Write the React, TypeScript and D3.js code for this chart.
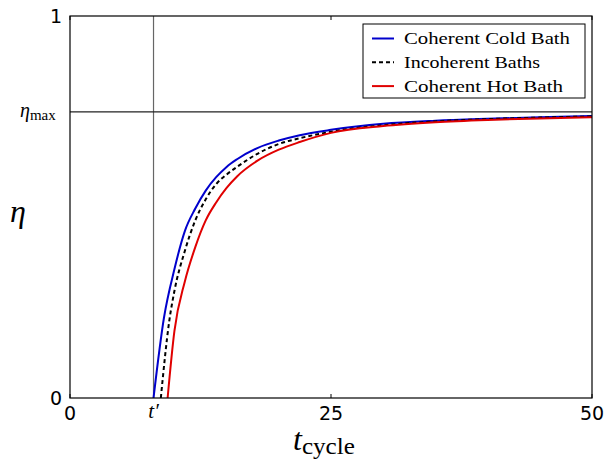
import React from "react";
import * as d3 from "d3";

const tCold = [8, 9, 10, 11, 12, 13, 14, 15, 16, 18, 20, 22, 25, 30, 35, 40, 45, 50];
const etaCold = [0, 0.21, 0.337, 0.437, 0.496, 0.543, 0.578, 0.605, 0.625, 0.655, 0.674, 0.688, 0.702, 0.718, 0.726, 0.731, 0.735, 0.738];

const tInc = [8.7, 9.5, 10, 11, 12, 13, 14, 15, 16, 18, 20, 22, 25, 30, 35, 40, 45, 50];
const etaInc = [0, 0.2, 0.28, 0.385, 0.465, 0.52, 0.56, 0.585, 0.605, 0.64, 0.665, 0.68, 0.697, 0.714, 0.724, 0.73, 0.734, 0.737];

const tHot = [9.35, 10, 11, 12, 13, 14, 15, 16, 18, 20, 22, 25, 30, 35, 40, 45, 50];
const etaHot = [0, 0.175, 0.305, 0.395, 0.465, 0.512, 0.55, 0.58, 0.622, 0.65, 0.67, 0.694, 0.712, 0.722, 0.728, 0.732, 0.735];

const xTicks = [0, 25, 50];
const yTicks = [0, 1];
const etaMax = 0.749;
const tPrime = 8;
const legendLabels = ["Coherent Cold Bath", "Incoherent Baths", "Coherent Hot Bath"];
const legendWidths = [166, 136, 159];

export default function App() {
  const W = 613, H = 460;
  const L = 70, R = 592, T = 16, B = 398;
  const x = d3.scaleLinear().domain([0, 50]).range([L, R]);
  const y = d3.scaleLinear().domain([0, 1]).range([B, T]);
  const line = d3
    .line<[number, number]>()
    .x((d) => x(d[0]))
    .y((d) => y(d[1]))
    .curve(d3.curveMonotoneX);
  const zip = (a: number[], b: number[]) => a.map((v, i) => [v, b[i]] as [number, number]);
  const series = [
    { name: legendLabels[0], d: zip(tCold, etaCold), color: "#0000cc", dash: undefined as string | undefined },
    { name: legendLabels[1], d: zip(tInc, etaInc), color: "#000000", dash: "4,3" },
    { name: legendLabels[2], d: zip(tHot, etaHot), color: "#e00000", dash: undefined as string | undefined },
  ];
  const serif = "'Liberation Serif', 'DejaVu Serif', serif";
  const sans = "'DejaVu Sans', sans-serif";
  return (
    <svg width={W} height={H} style={{ position: "absolute", left: 0, top: 0 }}>
      <rect x={0} y={0} width={W} height={H} fill="#fff" />
      <defs>
        <clipPath id="clip">
          <rect x={L} y={T} width={R - L} height={B - T} />
        </clipPath>
      </defs>
      <line x1={x(tPrime)} x2={x(tPrime)} y1={T} y2={B} stroke="#666" strokeWidth={1.2} />
      <line x1={L} x2={R} y1={y(etaMax)} y2={y(etaMax)} stroke="#222" strokeWidth={1.2} />
      <g clipPath="url(#clip)">
        {series.map((s) => (
          <path key={s.name} d={line(s.d) || ""} fill="none" stroke={s.color} strokeWidth={2} strokeDasharray={s.dash} />
        ))}
      </g>
      <rect x={L} y={T} width={R - L} height={B - T} fill="none" stroke="#000" strokeWidth={1.2} />
      {xTicks.map((t) => (
        <g key={"xt" + t}>
          <line x1={x(t)} x2={x(t)} y1={B} y2={B - 4} stroke="#000" />
          <line x1={x(t)} x2={x(t)} y1={T} y2={T + 4} stroke="#000" />
          <text x={x(t)} y={420} textAnchor="middle" fontFamily={sans} fontSize={19}>{t}</text>
        </g>
      ))}
      {yTicks.map((v) => (
        <text key={"yt" + v} x={62} y={y(v) + 7} textAnchor="end" fontFamily={sans} fontSize={19}>{v}</text>
      ))}
      <text x={x(tPrime)} y={418} textAnchor="middle" fontFamily={serif} fontSize={21} fontStyle="italic">t′</text>
      <text x={20} y={y(etaMax) + 5} fontFamily={serif} fontSize={20}>
        <tspan fontStyle="italic">η</tspan>
        <tspan fontSize={15} dy={3}>max</tspan>
      </text>
      <text x={293} y={450} fontFamily={serif} fontSize={32}>
        <tspan fontStyle="italic">t</tspan>
        <tspan fontSize={23} dy={4} textLength={53} lengthAdjust="spacingAndGlyphs">cycle</tspan>
      </text>
      <text x={10} y={222} fontFamily={serif} fontSize={32} fontStyle="italic">η</text>
      <rect x={363} y={24} width={222} height={74} fill="#fff" stroke="#000" strokeWidth={1} />
      {series.map((s, i) => {
        const ly = 38.5 + i * 23.8;
        return (
          <g key={"lg" + i}>
            <line x1={372} x2={394} y1={ly} y2={ly} stroke={s.color} strokeWidth={2} strokeDasharray={s.dash} />
            <text x={404} y={ly + 5.5} fontFamily={serif} fontSize={17} textLength={legendWidths[i]} lengthAdjust="spacingAndGlyphs">{s.name}</text>
          </g>
        );
      })}
    </svg>
  );
}
